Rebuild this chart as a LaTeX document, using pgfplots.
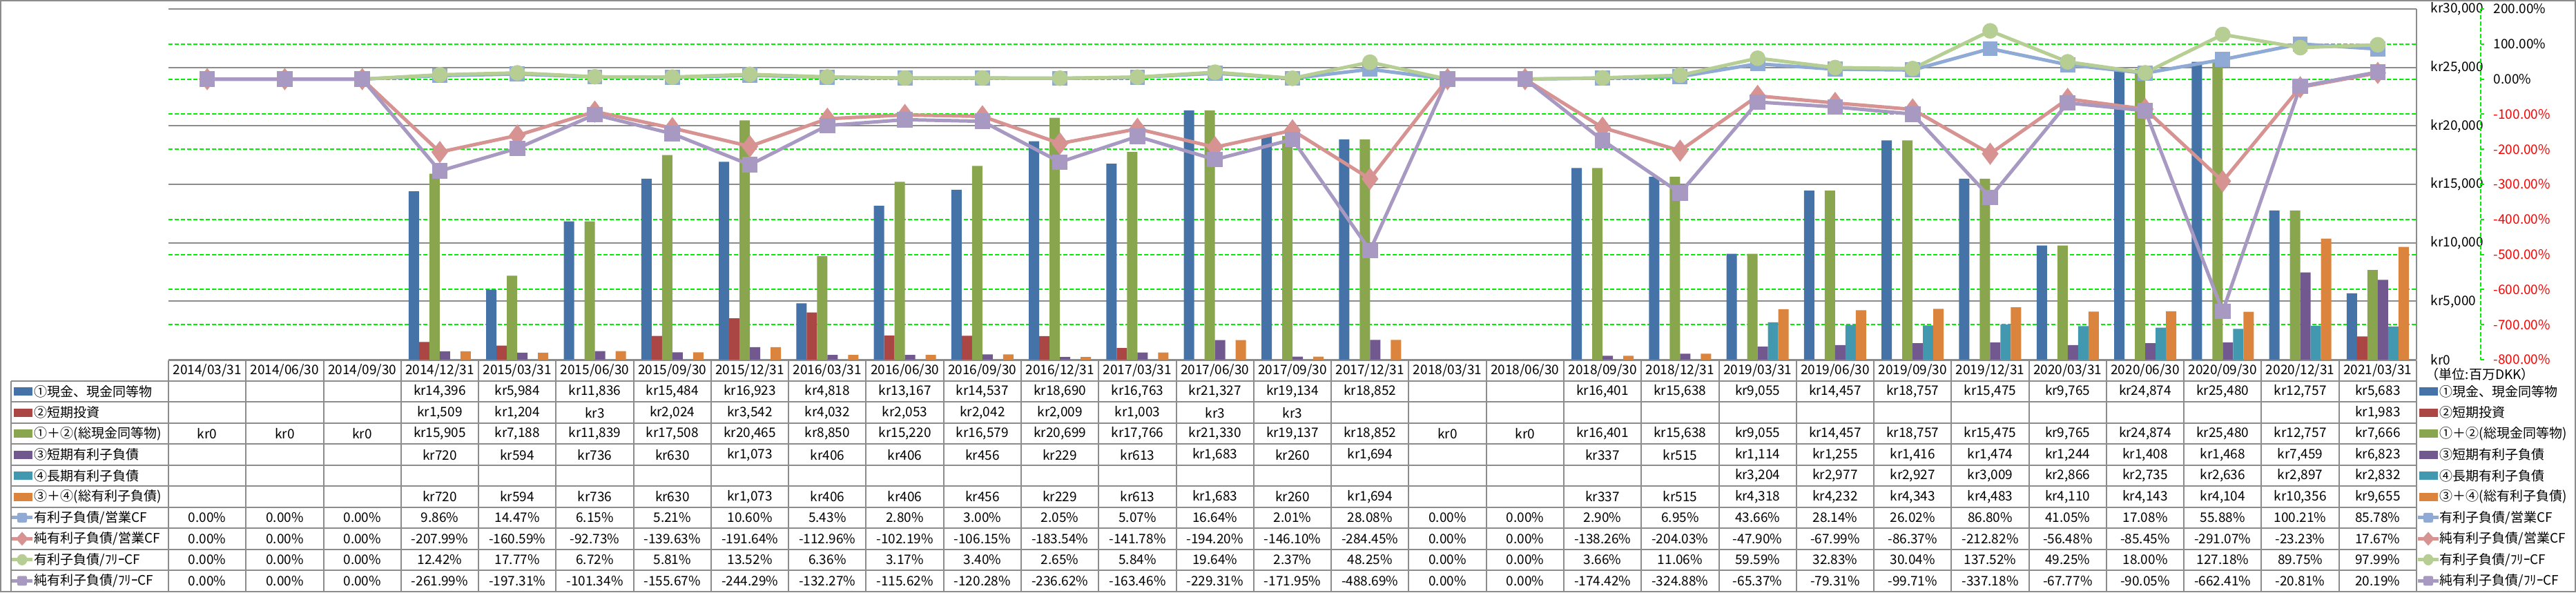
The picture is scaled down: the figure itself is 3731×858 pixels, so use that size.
\documentclass[border=0pt]{standalone}
\usepackage{pgfplots}
\pgfplotsset{compat=1.18}
\usepackage{fontspec}
\setmainfont{Noto Sans CJK JP}
\definecolor{cA}{HTML}{4572A7}
\definecolor{cB}{HTML}{AA4643}
\definecolor{cC}{HTML}{89A54E}
\definecolor{cD}{HTML}{71588F}
\definecolor{cE}{HTML}{4198AF}
\definecolor{cF}{HTML}{DB843D}
\definecolor{lA}{HTML}{8FAAD4}
\definecolor{lB}{HTML}{D69391}
\definecolor{lC}{HTML}{B6CE94}
\definecolor{lD}{HTML}{A799C2}
\definecolor{tline}{HTML}{8C8C8C}
\definecolor{ggreen}{HTML}{00F000}
\newcommand\fs{\fontsize{4.75pt}{5.7pt}\selectfont}
\pgfplotsset{every tick label/.append style={font=\fs}}
\newcommand\rowvals[2]{\foreach \v [count=\i] in {#2} {\node[inner sep=0pt] at ({244+(\i-0.5)*112.276},#1) {\v};}}
\newcommand\rowpct[2]{\foreach \v [count=\i] in {#2} {\node[inner sep=0pt] at ({244+(\i-0.5)*112.276},#1) {\v\%};}}
\newcommand\keybar[3]{\fill[#1] (#2,#3-6) rectangle (#2+27,#3+6);}
\newcommand\keysq[3]{\draw[#1, line width=1.25pt] (#2-15,#3)--(#2+15,#3); \fill[#1, rounded corners=0.5pt] (#2-7,#3-7) rectangle (#2+7,#3+7);}
\newcommand\keydia[3]{\draw[#1, line width=1.25pt] (#2-15,#3)--(#2+15,#3); \fill[#1] (#2,#3-10)--(#2+9,#3)--(#2,#3+10)--(#2-9,#3)--cycle;}
\newcommand\keycirc[3]{\draw[#1, line width=1.25pt] (#2-15,#3)--(#2+15,#3); \fill[#1] (#2,#3) ellipse [x radius=1.85pt, y radius=2.05pt];}
\newcommand\legtext[2]{\node[anchor=west, inner sep=0pt] at (49,#1) {#2};\node[anchor=west, inner sep=0pt] at (3533,#1) {#2};}
\begin{document}
\fs
\begin{tikzpicture}[font=\fs]
\begin{scope}[x=0.25pt,y=-0.25pt]
\useasboundingbox (0,0) rectangle (3731,858);
\end{scope}
% secondary grid + labels
\begin{axis}[
  at={(61pt,-130.25pt)}, anchor=south west, width=814pt, height=127pt, scale only axis,
  xmin=-0.5, xmax=28.5, ymin=-800, ymax=200,
  axis x line=none, axis y line*=right,
  y axis line style={draw=none},
  xtick=\empty,
  ytick={-700,-600,...,100},
  yticklabels={{\textcolor{red}{-700.00\%}},{\textcolor{red}{-600.00\%}},{\textcolor{red}{-500.00\%}},{\textcolor{red}{-400.00\%}},{\textcolor{red}{-300.00\%}},{\textcolor{red}{-200.00\%}},{\textcolor{red}{-100.00\%}},{0.00\%},{100.00\%}},
  extra y ticks={-800,200},
  extra y tick labels={{\textcolor{red}{-800.00\%}},{200.00\%}},
  extra y tick style={grid=none},
  major tick length=0pt,
  yticklabel style={anchor=west, inner sep=0pt, xshift=27.75pt},
  ymajorgrids, major grid style={draw=ggreen, line width=0.5pt, dash pattern=on 1.5pt off 0.75pt},
]
\end{axis}
% bars
\begin{axis}[
  at={(61pt,-130.25pt)}, anchor=south west, width=814pt, height=127pt, scale only axis,
  xmin=-0.5, xmax=28.5, ymin=0, ymax=30000,
  axis x line=none, axis y line*=right,
  y axis line style={draw=tline, line width=0.5pt, -},
  every outer y axis line/.append style={-},
  xtick=\empty, ytick={0,5000,...,30000}, scaled y ticks=false,
  yticklabels={kr0,{kr5,000},{kr10,000},{kr15,000},{kr20,000},{kr25,000},{kr30,000}},
  major tick length=0pt,
  yticklabel style={anchor=west, inner sep=0pt, xshift=5pt},
  ymajorgrids, major grid style={draw=tline, line width=0.5pt},
  ybar=0pt, bar width=3.75pt,
]
\addplot[fill=cA, draw=none] coordinates {(3,14396)(4,5984)(5,11836)(6,15484)(7,16923)(8,4818)(9,13167)(10,14537)(11,18690)(12,16763)(13,21327)(14,19134)(15,18852)(18,16401)(19,15638)(20,9055)(21,14457)(22,18757)(23,15475)(24,9765)(25,24874)(26,25480)(27,12757)(28,5683)};
\addplot[fill=cB, draw=none] coordinates {(3,1509)(4,1204)(5,3)(6,2024)(7,3542)(8,4032)(9,2053)(10,2042)(11,2009)(12,1003)(13,3)(14,3)(28,1983)};
\addplot[fill=cC, draw=none] coordinates {(3,15905)(4,7188)(5,11839)(6,17508)(7,20465)(8,8850)(9,15220)(10,16579)(11,20699)(12,17766)(13,21330)(14,19137)(15,18852)(18,16401)(19,15638)(20,9055)(21,14457)(22,18757)(23,15475)(24,9765)(25,24874)(26,25480)(27,12757)(28,7666)};
\addplot[fill=cD, draw=none] coordinates {(3,720)(4,594)(5,736)(6,630)(7,1073)(8,406)(9,406)(10,456)(11,229)(12,613)(13,1683)(14,260)(15,1694)(18,337)(19,515)(20,1114)(21,1255)(22,1416)(23,1474)(24,1244)(25,1408)(26,1468)(27,7459)(28,6823)};
\addplot[fill=cE, draw=none] coordinates {(20,3204)(21,2977)(22,2927)(23,3009)(24,2866)(25,2735)(26,2636)(27,2897)(28,2832)};
\addplot[fill=cF, draw=none] coordinates {(3,720)(4,594)(5,736)(6,630)(7,1073)(8,406)(9,406)(10,456)(11,229)(12,613)(13,1683)(14,260)(15,1694)(18,337)(19,515)(20,4318)(21,4232)(22,4343)(23,4483)(24,4110)(25,4143)(26,4104)(27,10356)(28,9655)};
\end{axis}
% lines
\begin{axis}[
  at={(61pt,-130.25pt)}, anchor=south west, width=814pt, height=127pt, scale only axis,
  xmin=-0.5, xmax=28.5, ymin=-800, ymax=200, hide axis, clip=false,
]
\addplot[lA, line width=1.25pt, mark=square*, mark size=2.1pt, mark options={fill=lA, draw=lA}] coordinates {(0,0)(1,0)(2,0)(3,9.86)(4,14.47)(5,6.15)(6,5.21)(7,10.60)(8,5.43)(9,2.80)(10,3.00)(11,2.05)(12,5.07)(13,16.64)(14,2.01)(15,28.08)(16,0)(17,0)(18,2.90)(19,6.95)(20,43.66)(21,28.14)(22,26.02)(23,86.80)(24,41.05)(25,17.08)(26,55.88)(27,100.21)(28,85.78)};
\addplot[lB, line width=1.25pt, mark=diamond*, mark size=3pt, mark options={fill=lB, draw=lB}] coordinates {(0,0)(1,0)(2,0)(3,-207.99)(4,-160.59)(5,-92.73)(6,-139.63)(7,-191.64)(8,-112.96)(9,-102.19)(10,-106.15)(11,-183.54)(12,-141.78)(13,-194.20)(14,-146.10)(15,-284.45)(16,0)(17,0)(18,-138.26)(19,-204.03)(20,-47.90)(21,-67.99)(22,-86.37)(23,-212.82)(24,-56.48)(25,-85.45)(26,-291.07)(27,-23.23)(28,17.67)};
\addplot[lC, line width=1.25pt, mark=*, mark size=2.2pt, mark options={fill=lC, draw=lC}] coordinates {(0,0)(1,0)(2,0)(3,12.42)(4,17.77)(5,6.72)(6,5.81)(7,13.52)(8,6.36)(9,3.17)(10,3.40)(11,2.65)(12,5.84)(13,19.64)(14,2.37)(15,48.25)(16,0)(17,0)(18,3.66)(19,11.06)(20,59.59)(21,32.83)(22,30.04)(23,137.52)(24,49.25)(25,18.00)(26,127.18)(27,89.75)(28,97.99)};
\addplot[lD, line width=1.25pt, mark=square*, mark size=2.2pt, mark options={fill=lD, draw=lD}] coordinates {(0,0)(1,0)(2,0)(3,-261.99)(4,-197.31)(5,-101.34)(6,-155.67)(7,-244.29)(8,-132.27)(9,-115.62)(10,-120.28)(11,-236.62)(12,-163.46)(13,-229.31)(14,-171.95)(15,-488.69)(16,0)(17,0)(18,-174.42)(19,-324.88)(20,-65.37)(21,-79.31)(22,-99.71)(23,-337.18)(24,-67.77)(25,-90.05)(26,-662.41)(27,-20.81)(28,20.19)};
\end{axis}
\begin{scope}[x=0.25pt,y=-0.25pt]
% outer border
\draw[tline, line width=0.5pt] (1,1) rectangle (3730,857);
% secondary axis line
\draw[ggreen, line width=0.5pt, dash pattern=on 1.5pt off 0.75pt] (3593,13)--(3593,521);
\foreach \k in {0,...,10} {\draw[ggreen, line width=0.5pt] (3593,{13+\k*50.8})--(3598,{13+\k*50.8});}
% table grid
\draw[tline, line width=0.5pt] (244,522)--(3500,522);
\foreach \k in {0,...,10} {\draw[tline, line width=0.5pt] (16,{552+\k*30.45})--(3500,{552+\k*30.45});}
\draw[tline, line width=0.5pt] (16,552)--(16,856.5);
\foreach \k in {0,...,29} {\draw[tline, line width=0.5pt] ({244+\k*112.276},522)--({244+\k*112.276},856.5);}
% header
\rowvals{537}{2014/03/31,2014/06/30,2014/09/30,2014/12/31,2015/03/31,2015/06/30,2015/09/30,2015/12/31,2016/03/31,2016/06/30,2016/09/30,2016/12/31,2017/03/31,2017/06/30,2017/09/30,2017/12/31,2018/03/31,2018/06/30,2018/09/30,2018/12/31,2019/03/31,2019/06/30,2019/09/30,2019/12/31,2020/03/31,2020/06/30,2020/09/30,2020/12/31,2021/03/31}
\rowvals{567.2}{{},{},{},{kr14,396},{kr5,984},{kr11,836},{kr15,484},{kr16,923},{kr4,818},{kr13,167},{kr14,537},{kr18,690},{kr16,763},{kr21,327},{kr19,134},{kr18,852},{},{},{kr16,401},{kr15,638},{kr9,055},{kr14,457},{kr18,757},{kr15,475},{kr9,765},{kr24,874},{kr25,480},{kr12,757},{kr5,683}}
\rowvals{597.7}{{},{},{},{kr1,509},{kr1,204},{kr3},{kr2,024},{kr3,542},{kr4,032},{kr2,053},{kr2,042},{kr2,009},{kr1,003},{kr3},{kr3},{},{},{},{},{},{},{},{},{},{},{},{},{},{kr1,983}}
\rowvals{628.1}{{kr0},{kr0},{kr0},{kr15,905},{kr7,188},{kr11,839},{kr17,508},{kr20,465},{kr8,850},{kr15,220},{kr16,579},{kr20,699},{kr17,766},{kr21,330},{kr19,137},{kr18,852},{kr0},{kr0},{kr16,401},{kr15,638},{kr9,055},{kr14,457},{kr18,757},{kr15,475},{kr9,765},{kr24,874},{kr25,480},{kr12,757},{kr7,666}}
\rowvals{658.6}{{},{},{},{kr720},{kr594},{kr736},{kr630},{kr1,073},{kr406},{kr406},{kr456},{kr229},{kr613},{kr1,683},{kr260},{kr1,694},{},{},{kr337},{kr515},{kr1,114},{kr1,255},{kr1,416},{kr1,474},{kr1,244},{kr1,408},{kr1,468},{kr7,459},{kr6,823}}
\rowvals{689.0}{{},{},{},{},{},{},{},{},{},{},{},{},{},{},{},{},{},{},{},{},{kr3,204},{kr2,977},{kr2,927},{kr3,009},{kr2,866},{kr2,735},{kr2,636},{kr2,897},{kr2,832}}
\rowvals{719.5}{{},{},{},{kr720},{kr594},{kr736},{kr630},{kr1,073},{kr406},{kr406},{kr456},{kr229},{kr613},{kr1,683},{kr260},{kr1,694},{},{},{kr337},{kr515},{kr4,318},{kr4,232},{kr4,343},{kr4,483},{kr4,110},{kr4,143},{kr4,104},{kr10,356},{kr9,655}}
\rowpct{749.9}{0.00,0.00,0.00,9.86,14.47,6.15,5.21,10.60,5.43,2.80,3.00,2.05,5.07,16.64,2.01,28.08,0.00,0.00,2.90,6.95,43.66,28.14,26.02,86.80,41.05,17.08,55.88,100.21,85.78}
\rowpct{780.4}{0.00,0.00,0.00,-207.99,-160.59,-92.73,-139.63,-191.64,-112.96,-102.19,-106.15,-183.54,-141.78,-194.20,-146.10,-284.45,0.00,0.00,-138.26,-204.03,-47.90,-67.99,-86.37,-212.82,-56.48,-85.45,-291.07,-23.23,17.67}
\rowpct{810.8}{0.00,0.00,0.00,12.42,17.77,6.72,5.81,13.52,6.36,3.17,3.40,2.65,5.84,19.64,2.37,48.25,0.00,0.00,3.66,11.06,59.59,32.83,30.04,137.52,49.25,18.00,127.18,89.75,97.99}
\rowpct{841.3}{0.00,0.00,0.00,-261.99,-197.31,-101.34,-155.67,-244.29,-132.27,-115.62,-120.28,-236.62,-163.46,-229.31,-171.95,-488.69,0.00,0.00,-174.42,-324.88,-65.37,-79.31,-99.71,-337.18,-67.77,-90.05,-662.41,-20.81,20.19}
% left legend keys
\keybar{cA}{20}{567.2} \keybar{cB}{20}{597.7} \keybar{cC}{20}{628.1}
\keybar{cD}{20}{658.6} \keybar{cE}{20}{689.0} \keybar{cF}{20}{719.5}
\keysq{lA}{32}{749.9} \keydia{lB}{32}{780.4} \keycirc{lC}{32}{810.8} \keysq{lD}{32}{841.3}
% right legend keys
\keybar{cA}{3504}{567.2} \keybar{cB}{3504}{597.7} \keybar{cC}{3504}{628.1}
\keybar{cD}{3504}{658.6} \keybar{cE}{3504}{689.0} \keybar{cF}{3504}{719.5}
\keysq{lA}{3517}{749.9} \keydia{lB}{3517}{780.4} \keycirc{lC}{3517}{810.8} \keysq{lD}{3517}{841.3}
\legtext{567.2}{①現金、現金同等物}
\legtext{597.7}{②短期投資}
\legtext{628.1}{①＋②(総現金同等物)}
\legtext{658.6}{③短期有利子負債}
\legtext{689.0}{④長期有利子負債}
\legtext{719.5}{③＋④(総有利子負債)}
\legtext{749.9}{有利子負債/営業CF}
\legtext{780.4}{純有利子負債/営業CF}
\legtext{810.8}{有利子負債/ﾌﾘｰCF}
\legtext{841.3}{純有利子負債/ﾌﾘｰCF}
\node[anchor=west, inner sep=0pt] at (3513,542) {（単位:百万DKK）};
\end{scope}
\end{tikzpicture}
\end{document}
